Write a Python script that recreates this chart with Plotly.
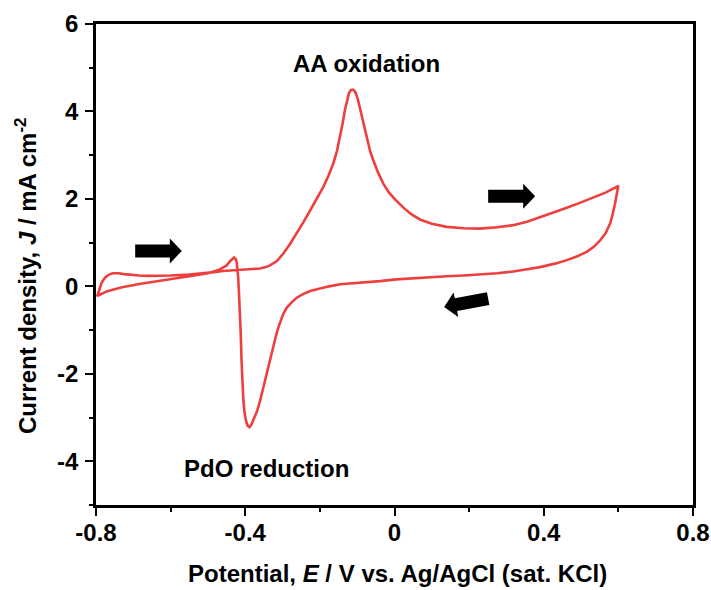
import plotly.graph_objects as go

# ---- data ----
forward_E = [-0.797, -0.792, -0.785, -0.776, -0.765, -0.755, -0.74, -0.725, -0.705, -0.685, -0.66, -0.64,
             -0.60, -0.55, -0.52, -0.49, -0.46, -0.42,
             -0.387, -0.36, -0.345, -0.334, -0.315, -0.298, -0.28, -0.262, -0.244, -0.226, -0.208,
             -0.191, -0.177, -0.164, -0.154, -0.146, -0.139,
             -0.133, -0.127, -0.122, -0.117, -0.112, -0.107, -0.103, -0.098, -0.094, -0.085, -0.074,
             -0.065, -0.057, -0.044, -0.030, -0.015, 0.0, 0.024, 0.045,
             0.068, 0.10, 0.14, 0.185, 0.229, 0.275, 0.318, 0.355, 0.39, 0.425, 0.462, 0.50, 0.533, 0.567, 0.600]
forward_J = [-0.23, -0.08, 0.08, 0.20, 0.27, 0.30, 0.30, 0.28, 0.26, 0.25, 0.24, 0.24,
             0.25, 0.27, 0.29, 0.32, 0.35, 0.37,
             0.38, 0.41, 0.44, 0.48, 0.58, 0.75, 0.97, 1.21, 1.47, 1.74, 2.00,
             2.27, 2.53, 2.81, 3.10, 3.42, 3.73,
             4.03, 4.27, 4.42, 4.49, 4.50, 4.47, 4.40, 4.27, 4.12, 3.78, 3.36,
             3.08, 2.89, 2.60, 2.35, 2.15, 2.00, 1.80, 1.65,
             1.53, 1.43, 1.36, 1.33, 1.32, 1.35, 1.40, 1.48, 1.58, 1.69, 1.80, 1.92, 2.03, 2.15, 2.30]
reverse_E = [0.596, 0.591, 0.585, 0.578, 0.566, 0.551, 0.535, 0.515, 0.49, 0.462, 0.43, 0.39, 0.355,
             0.318, 0.275, 0.229, 0.185, 0.14, 0.095, 0.05, 0.005, -0.039, -0.09, -0.146, -0.175,
             -0.2, -0.224, -0.244, -0.262, -0.275, -0.288, -0.298, -0.305, -0.311, -0.318, -0.325,
             -0.333, -0.342, -0.351, -0.360, -0.369, -0.378, -0.384, -0.389, -0.394, -0.398, -0.402,
             -0.405, -0.408, -0.41, -0.412, -0.414, -0.417, -0.419, -0.421, -0.423, -0.426, -0.430,
             -0.44, -0.45, -0.47, -0.50, -0.55, -0.60,
             -0.64, -0.68, -0.73, -0.77, -0.797]
reverse_J = [2.10, 1.89, 1.66, 1.44, 1.22, 1.05, 0.91, 0.79, 0.69, 0.60, 0.52, 0.44, 0.39,
             0.34, 0.30, 0.27, 0.25, 0.23, 0.21, 0.19, 0.16, 0.12, 0.09, 0.05, 0.00,
             -0.05, -0.10, -0.17, -0.26, -0.36, -0.48, -0.63, -0.77, -0.93, -1.14, -1.39,
             -1.68, -2.0, -2.32, -2.61, -2.87, -3.07, -3.17, -3.22, -3.18, -3.07, -2.88,
             -2.61, -2.20, -1.69, -1.10, -0.55, -0.12, 0.21, 0.42, 0.56, 0.63, 0.66,
             0.58, 0.48, 0.38, 0.30, 0.23, 0.17,
             0.12, 0.06, -0.02, -0.11, -0.22]

x_tickvals = [-0.8, -0.4, 0, 0.4, 0.8]
x_ticktext = ["-0.8", "-0.4", "0", "0.4", "0.8"]
x_minor = [-0.6, -0.2, 0.2, 0.6]
y_tickvals = [-4, -2, 0, 2, 4, 6]
y_ticktext = ["-4", "-2", "0", "2", "4", "6"]
y_minor = [-5, -3, -1, 1, 3, 5]

# scan-direction arrows: (tail E, tail J, tip E, tip J)
arrows = [(-0.695, 0.81, -0.570, 0.81),
          (0.251, 2.06, 0.377, 2.06),
          (0.251, -0.28, 0.133, -0.47)]

labels = [("AA oxidation", -0.076, 5.1), ("PdO reduction", -0.344, -4.16)]

# ---- layout geometry ----
W, H = 711, 590
ML, MR, MT, MB = 96, 18, 24, 85
XR = [-0.8, 0.8]
YR = [-5, 6]
PW, PH = W - ML - MR, H - MT - MB
sx = PW / (XR[1] - XR[0])
sy = PH / (YR[1] - YR[0])

LINE = "#EE3F3F"
FONT = "Liberation Sans, Arial, sans-serif"
FS = 24

fig = go.Figure()
fig.add_trace(go.Scatter(x=forward_E + reverse_E + [forward_E[0]],
                         y=forward_J + reverse_J + [forward_J[0]],
                         mode="lines", line=dict(color=LINE, width=2.6),
                         showlegend=False, hoverinfo="skip"))


def arrow_path(x0, y0, x1, y1, body=13, head=25, headlen=12):
    # work in pixel space, then convert back to data coordinates
    px0, py0 = x0 * sx, y0 * sy
    px1, py1 = x1 * sx, y1 * sy
    dx, dy = px1 - px0, py1 - py0
    L = (dx * dx + dy * dy) ** 0.5
    ux, uy = dx / L, dy / L
    nx, ny = -uy, ux
    bx, by = px1 - ux * headlen, py1 - uy * headlen
    pts = [(px0 + nx * body / 2, py0 + ny * body / 2),
           (bx + nx * body / 2, by + ny * body / 2),
           (bx + nx * head / 2, by + ny * head / 2),
           (px1, py1),
           (bx - nx * head / 2, by - ny * head / 2),
           (bx - nx * body / 2, by - ny * body / 2),
           (px0 - nx * body / 2, py0 - ny * body / 2)]
    d = "M " + " L ".join(f"{px / sx:.5f},{py / sy:.5f}" for px, py in pts) + " Z"
    return d


for a in arrows:
    fig.add_shape(type="path", path=arrow_path(*a), xref="x", yref="y",
                  fillcolor="black", line=dict(color="black", width=0))

for txt, x, y in labels:
    fig.add_annotation(text=txt, x=x, y=y, xref="x", yref="y", showarrow=False,
                       font=dict(family=FONT, size=FS, color="black", weight="bold"),
                       xanchor="center", yanchor="middle")

fig.add_annotation(text="Current density, <i>J</i> / mA cm<sup>-2</sup>",
                   xref="paper", yref="paper", x=(26 - ML) / PW, y=(H - MB - 276) / PH,
                   textangle=-90, showarrow=False, xanchor="center", yanchor="middle",
                   font=dict(family=FONT, size=FS, color="black", weight="bold"))
fig.add_annotation(text="Potential, <i>E</i> / V vs. Ag/AgCl (sat. KCl)",
                   xref="paper", yref="paper", x=(397 - ML) / PW, y=-(589 - (H - MB)) / PH,
                   showarrow=False, xanchor="center", yanchor="bottom",
                   font=dict(family=FONT, size=FS, color="black", weight="bold"))

axis_common = dict(showline=True, linecolor="black", linewidth=2.6, mirror=True,
                   ticks="outside", ticklen=8, tickwidth=2.4, tickcolor="black",
                   showgrid=False, zeroline=False, automargin=False,
                   tickfont=dict(family=FONT, size=FS, color="black", weight="bold"))

fig.update_xaxes(range=XR, tickmode="array", tickvals=x_tickvals, ticktext=x_ticktext,
                 minor=dict(tickmode="array", tickvals=x_minor, ticks="outside",
                            ticklen=4, tickwidth=2.4, tickcolor="black", showgrid=False),
                 ticklabelstandoff=-4, **axis_common)
fig.update_yaxes(range=YR, tickmode="array", tickvals=y_tickvals, ticktext=y_ticktext,
                 minor=dict(tickmode="array", tickvals=y_minor, ticks="outside",
                            ticklen=4, tickwidth=2.4, tickcolor="black", showgrid=False),
                 ticklabelstandoff=2, **axis_common)

fig.update_layout(width=W, height=H, margin=dict(l=ML, r=MR, t=MT, b=MB, autoexpand=False),
                  plot_bgcolor="white", paper_bgcolor="white",
                  font=dict(family=FONT, color="black"))

fig.write_html("out.html")
